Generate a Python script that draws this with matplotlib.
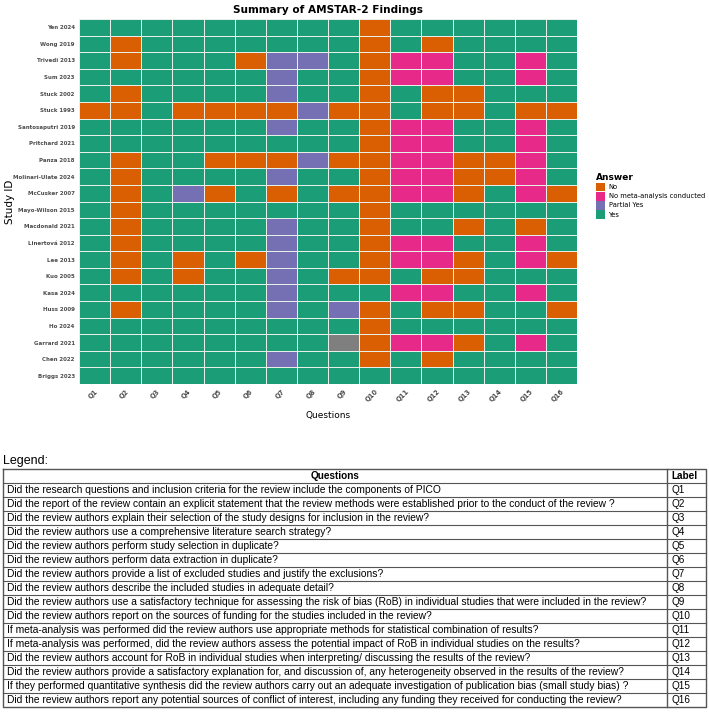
import numpy as np
import matplotlib
matplotlib.use("Agg")
import matplotlib.pyplot as plt
from matplotlib.colors import ListedColormap
from matplotlib.patches import Patch
from matplotlib import font_manager

# studies, top to bottom as shown
studies = ["Yen 2024", "Wong 2019", "Trivedi 2013", "Sum 2023", "Stuck 2002",
           "Stuck 1993", "Santosaputri 2019", "Pritchard 2021", "Panza 2018",
           "Molinari-Ulate 2024", "McCusker 2007", "Mayo-Wilson 2015",
           "Macdonald 2021", "Linertov\u00e1 2012", "Lee 2013", "Kuo 2005",
           "Kasa 2024", "Huss 2009", "Ho 2024", "Garrard 2021", "Chen 2022",
           "Briggs 2023"]
questions = ["Q%d" % i for i in range(1, 17)]

# Y = Yes, N = No, P = Partial Yes, M = No meta-analysis conducted, - = missing
answers = [
    "YYYYYYYYYNYYYYYY",  # Yen 2024
    "YNYYYYYYYNYNYYYY",  # Wong 2019
    "YNYYYNPPYNMMYYMY",  # Trivedi 2013
    "YYYYYYPYYNMMYYMY",  # Sum 2023
    "YNYYYYPYYNYNNYYY",  # Stuck 2002
    "NNYNNNNPNNYNNYNN",  # Stuck 1993
    "YYYYYYPYYNMMYYMY",  # Santosaputri 2019
    "YYYYYYYYYNMMYYMY",  # Pritchard 2021
    "YNYYNNNPNNMMNNMY",  # Panza 2018
    "YNYYYYPYYNMMNNMY",  # Molinari-Ulate 2024
    "YNYPNYNYNNMMNYMN",  # McCusker 2007
    "YNYYYYYYYNYYYYYY",  # Mayo-Wilson 2015
    "YNYYYYPYYNYYNYNY",  # Macdonald 2021
    "YNYYYYPYYNMMYYMY",  # Linertova 2012
    "YNYNYNPYYNMMNYMN",  # Lee 2013
    "YNYNYYPYNNYNNYYY",  # Kuo 2005
    "YYYYYYPYYYMMYYMY",  # Kasa 2024
    "YNYYYYPYPNYNNYYN",  # Huss 2009
    "YYYYYYYYYNYYYYYY",  # Ho 2024
    "YYYYYYYY-NMMNYMY",  # Garrard 2021
    "YYYYYYPYYNYNYYYY",  # Chen 2022
    "YYYYYYYYYYYYYYYY",  # Briggs 2023
]

categories = ["No", "No meta-analysis conducted", "Partial Yes", "Yes"]
codes = ["N", "M", "P", "Y"]
colors = ["#D95F02", "#E7298A", "#7570B3", "#1B9E77"]

table_questions = [
    "Did the research questions and inclusion criteria for the review include the components of PICO",
    "Did the report of the review contain an explicit statement that the review methods were established prior to the conduct of the review ?",
    "Did the review authors explain their selection of the study designs for inclusion in the review?",
    "Did the review authors use a comprehensive literature search strategy?",
    "Did the review authors perform study selection in duplicate?",
    "Did the review authors perform data extraction in duplicate?",
    "Did the review authors provide a list of excluded studies and justify the exclusions?",
    "Did the review authors describe the included studies in adequate detail?",
    "Did the review authors use a satisfactory technique for assessing the risk of bias (RoB) in individual studies that were included in the review?",
    "Did the review authors report on the sources of funding for the studies included in the review?",
    "If meta-analysis was performed did the review authors use appropriate methods for statistical combination of results?",
    "If meta-analysis was performed, did the review authors assess the potential impact of RoB in individual studies on the results?",
    "Did the review authors account for RoB in individual studies when interpreting/ discussing the results of the review?",
    "Did the review authors provide a satisfactory explanation for, and discussion of, any heterogeneity observed in the results of the review?",
    "If they performed quantitative synthesis did the review authors carry out an adequate investigation of publication bias (small study bias) ?",
    "Did the review authors report any potential sources of conflict of interest, including any funding they received for conducting the review?",
]

grid = np.full((len(studies), len(questions)), np.nan)
for i, row in enumerate(answers):
    for j, ch in enumerate(row):
        if ch in codes:
            grid[i, j] = codes.index(ch)
grid = np.ma.masked_invalid(grid)

W, H = 709, 714
fig = plt.figure(figsize=(W / 100, H / 100), dpi=100)

cmap = ListedColormap(colors)
cmap.set_bad("#7F7F7F")

ax = fig.add_axes([79 / W, 1 - 384 / H, (577 - 79) / W, (384 - 19) / H])
ax.pcolormesh(np.arange(len(questions) + 1), np.arange(len(studies) + 1), grid,
              cmap=cmap, vmin=-0.5, vmax=3.5, edgecolors="#e8efe9", linewidth=0.5)
ax.set_xlim(0, len(questions))
ax.set_ylim(len(studies), 0)
ax.set_xticks(np.arange(len(questions)) + 0.5)
ax.set_xticklabels(questions, rotation=45, ha="right", rotation_mode="anchor",
                   fontsize=4.8, fontweight="bold", color="#4D4D4D")
ax.set_yticks(np.arange(len(studies)) + 0.5)
ax.set_yticklabels(studies, fontsize=4.0, fontweight="bold", color="#4D4D4D")
ax.tick_params(length=0, pad=3)
for s in ax.spines.values():
    s.set_visible(False)
ax.set_xlabel("Questions", fontsize=6.5, labelpad=6)
ax.set_ylabel("Study ID", fontsize=7.5)
ax.yaxis.set_label_coords((15 - 79) / 498, 0.5)
ax.set_title("Summary of AMSTAR-2 Findings", fontsize=7.6, fontweight="bold", pad=4)

handles = [Patch(facecolor=c, edgecolor="none") for c in colors]
leg = ax.legend(handles, categories, title="Answer", loc="center left",
                bbox_to_anchor=(1.025, 0.515), frameon=False, fontsize=4.9,
                title_fontsize=6.5, handlelength=1.4, handleheight=1.6,
                handletextpad=0.5, labelspacing=0.05)
leg._legend_box.align = "left"
leg.get_title().set_fontweight("bold")

# legend table below
tx = fig.add_axes([0, 0, 1, 1])
tx.set_xlim(0, W)
tx.set_ylim(H, 0)
tx.axis("off")
tfont = "Liberation Sans Narrow"
try:
    font_manager.findfont(tfont, fallback_to_default=False)
except Exception:
    tfont = "Liberation Sans"

top, pitch = 469, 14.0
left, right, div = 3, 706, 667
nrows = len(table_questions) + 1
bottom = top + nrows * pitch
tx.text(left, top - 2, "Legend:", fontsize=9, family=tfont, va="bottom", ha="left")
lc = "#555555"
tx.plot([left, right, right, left, left], [top, top, bottom, bottom, top], color=lc, lw=1.0)
tx.plot([div, div], [top, bottom], color=lc, lw=1.0)
for k in range(1, nrows):
    tx.plot([left, right], [top + k * pitch] * 2, color=lc, lw=0.8)
tx.text((left + div) / 2, top + pitch / 2, "Questions", fontsize=7.2, family=tfont,
        fontweight="bold", ha="center", va="center")
tx.text(div + 4, top + pitch / 2, "Label", fontsize=7.2, family=tfont,
        fontweight="bold", ha="left", va="center")
for k, (qt, ql) in enumerate(zip(table_questions, questions)):
    yc = top + (k + 1.5) * pitch
    tx.text(left + 4, yc, qt, fontsize=7.4, family=tfont, ha="left", va="center")
    tx.text(div + 4, yc, ql, fontsize=7.2, family=tfont, ha="left", va="center")

fig.savefig("out.png", dpi=100)
